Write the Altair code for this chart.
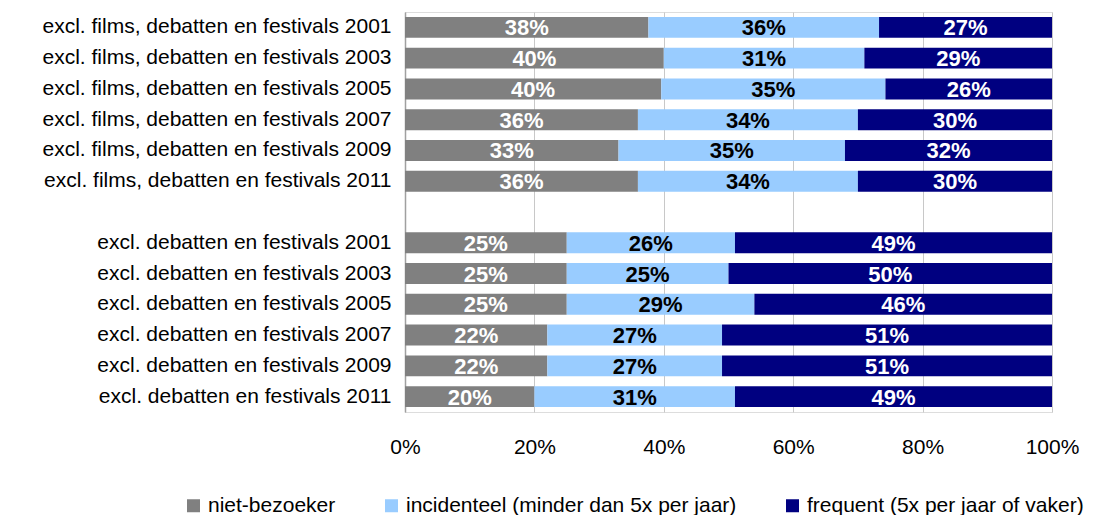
import altair as alt
import pandas as pd

# --- data ---
years = ["2001", "2003", "2005", "2007", "2009", "2011"]
group_a = "excl. films, debatten en festivals"
group_b = "excl. debatten en festivals"

series = ["niet-bezoeker", "incidenteel (minder dan 5x per jaar)", "frequent (5x per jaar of vaker)"]
colors = ["#808080", "#99CCFF", "#000080"]

a_niet = [38, 40, 40, 36, 33, 36]
a_inc = [36, 31, 35, 34, 35, 34]
a_freq = [27, 29, 26, 30, 32, 30]

b_niet = [25, 25, 25, 22, 22, 20]
b_inc = [26, 25, 29, 27, 27, 31]
b_freq = [49, 50, 46, 51, 51, 49]

spacer = " "

rows_a = [f"{group_a} {y}" for y in years]
rows_b = [f"{group_b} {y}" for y in years]
domain = rows_a + [spacer] + rows_b

records = []
for rows, vals in ((rows_a, (a_niet, a_inc, a_freq)), (rows_b, (b_niet, b_inc, b_freq))):
    for i, r in enumerate(rows):
        for k, s in enumerate(series):
            records.append({"row": r, "cat": s, "order": k, "value": vals[k][i]})
df = pd.DataFrame(records)

FONT = "Liberation Sans"

base = alt.Chart(df).transform_stack(
    stack="value",
    groupby=["row"],
    sort=[alt.SortField("order", order="ascending")],
    as_=["v0", "v1"],
    offset="normalize",
).transform_calculate(
    mid="(datum.v0 + datum.v1) / 2",
    label="datum.value + '%'",
)

yenc = alt.Y(
    "row:N",
    scale=alt.Scale(domain=domain, paddingInner=0.32, paddingOuter=0.16),
    axis=alt.Axis(
        title=None,
        labelFontSize=21,
        labelFont=FONT,
        labelColor="#000000",
        labelPadding=14,
        ticks=False,
        domain=True,
        domainColor="#a0a0a0",
        domainWidth=1.5,
        grid=False,
        labelLimit=600,
    ),
)

bars = base.mark_bar().encode(
    x=alt.X(
        "v0:Q",
        scale=alt.Scale(domain=[0, 1], nice=False),
        axis=alt.Axis(
            title=None,
            format="%",
            values=[0, 0.2, 0.4, 0.6, 0.8, 1.0],
            labelFontSize=21,
            labelFont=FONT,
            labelColor="#000000",
            labelPadding=24,
            labelFlush=False,
            ticks=False,
            domain=False,
            grid=True,
            gridColor="#c8c8c8",
            gridWidth=1,
        ),
    ),
    x2="v1:Q",
    y=yenc,
    color=alt.Color(
        "cat:N",
        scale=alt.Scale(domain=series, range=colors),
        legend=alt.Legend(
            title=None,
            orient="none",
            direction="horizontal",
            legendX=-222,
            legendY=483,
            symbolType="square",
            symbolSize=169,
            symbolStrokeWidth=0,
            labelFontSize=21,
            labelFont=FONT,
            labelColor="#000000",
            labelOffset=4,
            columnPadding=45,
            labelLimit=500,
        ),
    ),
)

text = base.mark_text(
    font=FONT, fontSize=22, fontWeight="bold", baseline="middle", align="center", dy=1
).encode(
    x=alt.X("mid:Q"),
    y=alt.Y("row:N", scale=alt.Scale(domain=domain)),
    text="label:N",
    color=alt.condition(
        f"datum.cat == '{series[1]}'", alt.value("#000000"), alt.value("#ffffff")
    ),
)

chart = (
    alt.layer(bars, text)
    .properties(
        width=647,
        height=400,
        autosize=alt.AutoSizeParams(type="none"),
        padding={"left": 397, "top": 4, "right": 34, "bottom": 103},
    )
    .configure_view(stroke=None)
    .configure(background="#ffffff")
)

chart.save("out.html", embed_options={"renderer": "svg", "actions": False})
